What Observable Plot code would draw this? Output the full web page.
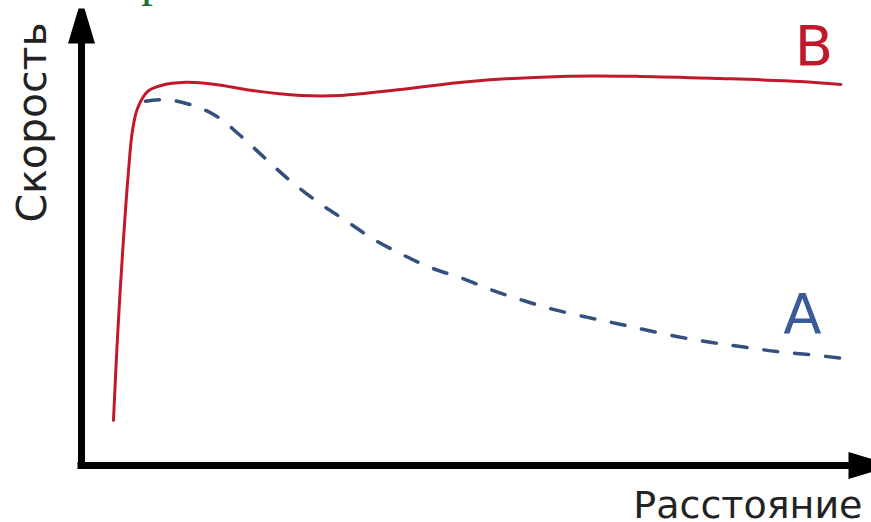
<!DOCTYPE html>
<html>
<head>
<meta charset="utf-8">
<script src="https://cdn.jsdelivr.net/npm/d3@7"></script>
<script src="https://cdn.jsdelivr.net/npm/@observablehq/plot@0.6"></script>
<style>
  html, body { margin: 0; padding: 0; background: #fff; }
  #wrap { position: relative; width: 871px; height: 522px; overflow: hidden; }
  #title { position: absolute; left: 141px; top: -44px; font: 48px/48px "Liberation Serif", serif; color: #1b6b3a; white-space: nowrap; }
  #chart { position: absolute; left: 0; top: 0; }
</style>
</head>
<body>
<div id="wrap">
  <div id="chart"></div>
  <div id="title">р</div>
</div>
<script>
// Curve B (red, solid): distance vs speed
const bDistance = [4.17, 4.69, 5.35, 6.13, 6.65, 7.30, 8.60, 10.3, 13.6, 17.5, 22.0, 28.6, 33.8, 41.6, 50.7, 62.5, 72.9, 83.3, 93.7, 99.0];
const bSpeed    = [10.7, 30.3, 50.2, 69.9, 79.4, 84.6, 88.6, 90.0, 90.8, 90.3, 88.9, 87.7, 87.7, 89.1, 91.0, 92.2, 92.2, 91.7, 91.0, 90.3];

// Curve A (blue, dashed)
const aDistance = [8.34, 10.95, 14.2, 17.5, 20.7, 24.0, 27.2, 30.9, 34.4, 37.9, 41.6, 45.5, 49.7, 53.6, 57.6, 61.5, 66.0, 69.9, 73.9, 78.4, 82.4, 86.6, 90.7, 94.8, 99.2];
const aSpeed    = [86.3, 86.7, 85.5, 82.9, 78.2, 72.7, 67.5, 62.3, 58.1, 53.8, 50.2, 46.9, 44.3, 41.5, 39.1, 37.0, 35.1, 33.6, 32.0, 30.3, 29.1, 28.0, 27.0, 26.3, 25.4];

// Curve labels
const curveNames = ["B", "A"];
const labelDistance = [95.5, 94.0];
const labelSpeed = [94.8, 31.3];
const labelColors = ["#c0192b", "#3a5a9c"];

// Axis titles
const xTitle = "Расстояние";
const yTitle = "Скорость";

const bData = bDistance.map((d, i) => ({x: d, y: bSpeed[i]}));
const aData = aDistance.map((d, i) => ({x: d, y: aSpeed[i]}));
const labels = curveNames.map((n, i) => ({name: n, x: labelDistance[i], y: labelSpeed[i], color: labelColors[i]}));

// Custom arrowhead symbol: base centred at origin, tip pointing up
const arrowHead = {
  draw(context, size) {
    const r = Math.sqrt(size / Math.PI);
    const L = 3.5 * r, W = 1.35 * r, T = 0.3 * r;
    context.moveTo(-W, 0);
    context.lineTo(W, 0);
    context.lineTo(T, -L);
    context.lineTo(-T, -L);
    context.closePath();
  }
};

const chart = Plot.plot({
  width: 871,
  height: 522,
  marginLeft: 81,
  marginRight: 23,
  marginTop: 43,
  marginBottom: 57,
  x: {domain: [0, 100], axis: null},
  y: {domain: [0, 100], axis: null},
  style: {background: "#fff", overflow: "visible"},
  marks: [
    Plot.line(aData, {x: "x", y: "y", curve: "catmull-rom", stroke: "#34507e", strokeWidth: 3.5, strokeDasharray: "14,17"}),
    Plot.line(bData, {x: "x", y: "y", curve: "catmull-rom", stroke: "#c0192b", strokeWidth: 3}),
    Plot.ruleX([0], {stroke: "#000", strokeWidth: 7, strokeLinecap: "square"}),
    Plot.ruleY([0], {stroke: "#000", strokeWidth: 7, strokeLinecap: "square"}),
    Plot.dot([{x: 0, y: 100}], {x: "x", y: "y", symbol: arrowHead, r: 10, fill: "#000", stroke: null}),
    Plot.dot([{x: 100, y: 0}], {x: "x", y: "y", symbol: arrowHead, r: 10, fill: "#000", stroke: null, rotate: 90}),
    Plot.text(labels, {x: "x", y: "y", text: "name", fill: "color", fontSize: 56, fontFamily: "DejaVu Sans", textAnchor: "middle", lineAnchor: "bottom"}),
    Plot.text([xTitle], {frameAnchor: "bottom-right", dx: 14, dy: 52, textAnchor: "end", lineAnchor: "bottom", fontSize: 38, fontFamily: "DejaVu Sans", fill: "#222"}),
    Plot.text([yTitle], {frameAnchor: "left", dx: -36, dy: -132, rotate: -90, textAnchor: "middle", lineAnchor: "bottom", fontSize: 41, fontFamily: "DejaVu Sans", fill: "#222"})
  ]
});
document.getElementById("chart").appendChild(chart);
</script>
</body>
</html>
